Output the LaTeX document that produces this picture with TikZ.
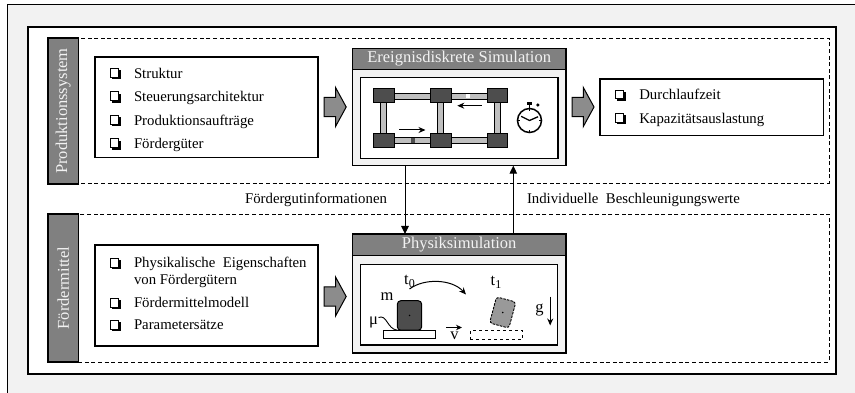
\documentclass[tikz,border=0pt]{standalone}
\usepackage{fontspec}
\setmainfont{Liberation Serif}
\usetikzlibrary{arrows.meta,calc}
\definecolor{bandgray}{HTML}{F2F2F2}
\definecolor{headgray}{HTML}{808080}
\definecolor{headtext}{HTML}{F2F2F2}
\definecolor{arrowgray}{HTML}{8C8C8C}
\definecolor{stationgray}{HTML}{4D4D4D}
\definecolor{railgray}{HTML}{BFBFBF}
\definecolor{partgray}{HTML}{999999}

\tikzset{
  chk/.pic={
    \fill[black] (-3,-3) rectangle (6,6);
    \filldraw[fill=white, draw=black, line width=1pt] (-4.8,-4.8) rectangle (3.9,3.9);
  },
  blockarrow/.pic={
    \filldraw[fill=arrowgray, draw=black, line width=1pt, line join=miter]
      (-11.3,-9.6) -- (0,-9.6) -- (0,-19.6) -- (10.7,0) -- (0,19.6) -- (0,9.6) -- (-11.3,9.6) -- cycle;
  }
}

\begin{document}
\begin{tikzpicture}[x=1pt,y=-1pt,
  every node/.style={inner sep=0pt, outer sep=0pt},
  body/.style={font=\fontsize{14.8}{17.4}\selectfont},
  bigfont/.style={font=\fontsize{16.5}{19}\selectfont},
  listbox/.style={draw=black, fill=white, line width=1.2pt, anchor=north west},
  region/.style={draw=black, line width=0.8pt, dash pattern=on 4pt off 2.6pt},
  sidebar/.style={draw=black, fill=headgray, line width=1.2pt, rotate=90,
    bigfont, text=headtext},
  simframe/.style={draw=black, fill=bandgray, line width=1.5pt, anchor=north west},
  simhead/.style={draw=black, fill=headgray, line width=1.5pt, anchor=north west,
    bigfont, text=headtext},
  simview/.style={draw=black, fill=white, line width=1.3pt, anchor=north west},
  station/.style={draw=black, fill=stationgray, line width=0.8pt,
    minimum width=20.7pt, minimum height=14pt},
  rail/.style={draw=black, fill=railgray, line width=0.8pt},
  conn/.style={draw=black, line width=1pt, -{Triangle[length=8pt,width=7.5pt]}},
  smallarrow/.style={draw=black, line width=1pt, -{Stealth[length=7pt,width=6pt]}},
]
\useasboundingbox (0,0) rectangle (855,393);

% page band and frame
\fill[bandgray] (7,5) rectangle (855,393);
\draw[line width=1pt] (7,393) -- (7,5) -- (855,5);
\node[draw=black, fill=white, line width=1.2pt, anchor=north west,
  minimum width=808pt, minimum height=347pt] (panel) at (28,27) {};

% dashed regions with side labels
\draw[region] (48,38) rectangle (829,183);
\draw[region] (48,214) rectangle (829,362);
\node[sidebar, minimum width=146pt, minimum height=30.5pt] (barP) at (63.2,111) {Produktionssystem};
\node[sidebar, minimum width=148pt, minimum height=30.5pt] (barF) at (63.2,288) {Fördermittel};

% input list: production system
\node[listbox, minimum width=223pt, minimum height=100.5pt] (inP) at (95,57) {};
\pic at (115,73.5) {chk};
\node[body, anchor=base west] (iP1) at (134,78.5) {Struktur};
\pic at (115,96.8) {chk};
\node[body, anchor=base west] (iP2) at (134,101.8) {Steuerungsarchitektur};
\pic at (115,120.2) {chk};
\node[body, anchor=base west] (iP3) at (134,125.2) {Produktionsaufträge};
\pic at (115,143.6) {chk};
\node[body, anchor=base west] (iP4) at (134,148.6) {Fördergüter};

% input list: conveyors
\node[listbox, minimum width=223pt, minimum height=101pt] (inF) at (95,245) {};
\pic at (115,263.3) {chk};
\node[body, anchor=base west] (iF1) at (134,267.5) {Physikalische \ Eigenschaften};
\node[body, anchor=base west] (iF1b) at (134,284.6) {von Fördergütern};
\pic at (115,303.3) {chk};
\node[body, anchor=base west] (iF2) at (134,307.8) {Fördermittelmodell};
\pic at (115,325.2) {chk};
\node[body, anchor=base west] (iF3) at (134,329.8) {Parametersätze};

% output list
\node[listbox, minimum width=223.3pt, minimum height=56.7pt] (outP) at (600,79) {};
\pic at (620,95) {chk};
\node[body, anchor=base west] (o1) at (639.3,100) {Durchlaufzeit};
\pic at (620,118.5) {chk};
\node[body, anchor=base west] (o2) at (639.3,123.5) {Kapazitätsauslastung};

% block arrows
\pic at (335.5,107) {blockarrow};
\pic at (583.3,107) {blockarrow};
\pic at (335.5,296.5) {blockarrow};

% discrete-event simulation
\node[simframe, minimum width=213.7pt, minimum height=117.4pt] (sim1) at (352.3,48.3) {};
\node[simhead, minimum width=213.7pt, minimum height=21pt] (head1) at (352.3,48.3) {Ereignisdiskrete Simulation};
\node[simview, minimum width=197.3pt, minimum height=80.6pt] (view1) at (360.7,77.7) {};

% conveyor layout
\filldraw[rail] (383.7,93) rectangle (497.5,99);
\filldraw[rail] (383.7,137.8) rectangle (497.5,143.8);
\filldraw[rail] (380.7,95.3) rectangle (386.7,140.3);
\filldraw[rail] (437.8,95.3) rectangle (443.8,140.3);
\filldraw[rail] (494.5,95.3) rectangle (500.5,140.3);
\fill[white] (465.7,93.6) rectangle (469.5,98.4);
\fill[stationgray] (410.8,138.4) rectangle (414.6,143.2);
\node[station] (s11) at (383.7,95.3) {};
\node[station] (s12) at (440.8,95.3) {};
\node[station] (s13) at (497.5,95.3) {};
\node[station] (s21) at (383.7,140.3) {};
\node[station] (s22) at (440.8,140.3) {};
\node[station] (s23) at (497.5,140.3) {};
\coordinate (flowA1) at (481.7,105.7);
\coordinate (flowA2) at (457.3,105.7);
\coordinate (flowB1) at (399.3,130);
\coordinate (flowB2) at (425.5,130);
\draw[smallarrow] (flowA1) -- (flowA2);
\draw[smallarrow] (flowB1) -- (flowB2);

% stopwatch
\coordinate (clk) at (529.5,120.5);
\draw[line width=1.5pt] (clk) circle (12);
\fill (526.7,101.6) rectangle (532.3,105.4);
\draw[line width=1.3pt] (529.5,105.4) -- (529.5,108.5);
\fill (537.8,105) circle (1.8);
\foreach \a in {0,90,180,270} {
  \draw[line width=0.9pt] ($(clk)+(\a:12)$) -- ($(clk)+(\a:9.4)$);
}
\draw[line width=1.3pt, line join=round] ($(clk)+(-8.4,-4.2)$) -- (clk) -- ($(clk)+(8.6,-3.8)$);

% physics simulation
\node[simframe, minimum width=213.7pt, minimum height=119pt] (sim2) at (352.3,234) {};
\node[simhead, minimum width=213.7pt, minimum height=21.7pt] (head2) at (352.3,234) {Physiksimulation};
\node[simview, minimum width=197pt, minimum height=80.7pt] (view2) at (360.7,264.3) {};

\node[draw=black, fill=white, line width=1pt, anchor=north west,
  minimum width=52.4pt, minimum height=8.3pt] (belt) at (383.3,330) {};
\node[draw=black, fill=stationgray, line width=1pt, rounded corners=3.5pt,
  anchor=south, minimum width=24.4pt, minimum height=29.5pt] (part0) at (409.5,330.2) {};
\fill (part0.center) circle (0.8);
\node[draw=black, dashed, line width=0.8pt, anchor=north west,
  minimum width=52.7pt, minimum height=8.3pt] (belt1) at (470,330.7) {};
\node[draw=black, fill=partgray, line width=0.9pt, dash pattern=on 2.5pt off 1.2pt,
  rounded corners=3pt, rotate=-15, minimum width=20pt, minimum height=27pt] (part1) at (502.7,312.5) {};
\fill (part1.center) circle (0.8);

\node[bigfont, anchor=base] (lm) at (387,300) {m};
\node[bigfont, anchor=base] (lt0) at (409.5,284) {t\raisebox{-0.45ex}{\fontsize{12}{12}\selectfont 0}};
\node[bigfont, anchor=base] (lt1) at (496,285) {t\raisebox{-0.45ex}{\fontsize{12}{12}\selectfont 1}};
\node[bigfont, anchor=base] (lmu) at (373.5,324) {μ};
\node[bigfont, anchor=base] (lv) at (454.5,339) {v};
\node[bigfont, anchor=base] (lg) at (539.5,312.5) {g};
\draw[line width=0.9pt] (378.5,317.5) .. controls (387,314) and (387,329) .. (part0.south west);
\draw[smallarrow] (409.5,289) .. controls (424,278) and (452,279) .. (466,294.5);
\coordinate (vA) at (446.3,327.5);
\coordinate (vB) at (462,327.5);
\draw[smallarrow, -{Stealth[length=6pt,width=5.5pt]}] (vA) -- (vB);
\coordinate (gA) at (550.2,296.7);
\coordinate (gB) at (550.2,325.5);
\draw[smallarrow] (gA) -- (gB);

% information exchange
\coordinate (xDown) at (405,0);
\coordinate (xUp) at (513.3,0);
\draw[conn] (xDown |- sim1.south) -- (xDown |- sim2.north);
\draw[conn] (xUp |- sim2.north) -- (xUp |- sim1.south);
\node[body, anchor=base east] (lblDown) at (387,204) {Fördergutinformationen};
\node[body, anchor=base west] (lblUp) at (527,204) {Individuelle \ Beschleunigungswerte};
\end{tikzpicture}
\end{document}
